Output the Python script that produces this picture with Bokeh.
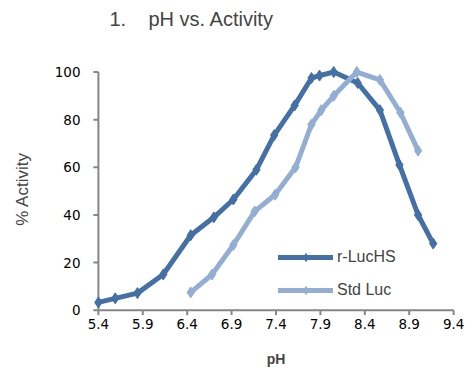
from bokeh.plotting import figure
from bokeh.models import Range1d, FixedTicker, Legend, LegendItem, Title
from bokeh.embed import file_html
from bokeh.resources import INLINE

# Data
ph_hs = [5.40, 5.59, 5.84, 6.13, 6.44, 6.70, 6.92, 7.18, 7.38, 7.61, 7.80, 7.89, 8.05, 8.32, 8.57, 8.79, 9.00, 9.17]
act_hs = [3.3, 5.0, 7.2, 15.0, 31.5, 39.0, 46.5, 59.0, 73.5, 86.0, 97.5, 98.5, 100.0, 95.4, 84.0, 61.0, 40.0, 28.0]

ph_std = [6.44, 6.68, 6.92, 7.16, 7.39, 7.62, 7.80, 7.91, 8.05, 8.31, 8.57, 8.80, 9.00]
act_std = [7.5, 15.0, 27.4, 41.5, 48.5, 60.0, 78.0, 84.0, 90.0, 100.0, 96.7, 83.0, 67.0]

x_ticks = [5.4, 5.9, 6.4, 6.9, 7.4, 7.9, 8.4, 8.9, 9.4]
y_ticks = [0, 20, 40, 60, 80, 100]

DARK = "#4470a5"
LIGHT = "#94aed3"
AXIS = "#868686"

X0, X1 = x_ticks[0], x_ticks[-1]
Y0, Y1 = y_ticks[0], y_ticks[-1]

p = figure(width=465, height=370, output_backend="svg", toolbar_location=None,
           x_range=Range1d(5.3, 9.5), y_range=Range1d(-2.2, 104),
           min_border_left=89, min_border_right=3, min_border_top=59, min_border_bottom=55)
p.outline_line_color = None
p.grid.grid_line_color = None
p.background_fill_color = "white"
p.border_fill_color = "white"

p.title.text = "1.\u00a0\u00a0\u00a0\u00a0pH vs. Activity"
p.title.text_font = "Liberation Sans"
p.title.text_font_size = "20px"
p.title.text_font_style = "normal"
p.title.offset = 20
p.title.standoff = 10

# invisible spacer between the title and the plot frame
p.add_layout(Title(text="\u00a0", text_font_size="1px", standoff=25, text_color="white"), "above")

# axes: labels from Bokeh, line and ticks drawn at the data origin (5.4, 0)
for ax in (p.xaxis[0], p.yaxis[0]):
    ax.axis_line_color = None
    ax.major_tick_line_color = None
    ax.major_tick_out = 0
    ax.major_tick_in = 0
    ax.minor_tick_line_color = None
    ax.major_label_text_font = "DejaVu Sans"
    ax.major_label_text_font_size = "13.5px"
    ax.major_label_text_color = "black"

p.xaxis.ticker = FixedTicker(ticks=x_ticks)
p.yaxis.ticker = FixedTicker(ticks=y_ticks)
p.xaxis.major_label_overrides = {t: f"{t:.1f}" for t in x_ticks}
p.xaxis.major_label_standoff = 3
p.yaxis.major_label_standoff = 9

p.xaxis.axis_label = "pH"
p.xaxis.axis_label_text_font = "Liberation Sans"
p.xaxis.axis_label_text_font_size = "14px"
p.xaxis.axis_label_text_font_style = "bold"
p.xaxis.axis_label_standoff = 19

p.yaxis.axis_label = "% Activity"
p.yaxis.axis_label_text_font = "Liberation Sans"
p.yaxis.axis_label_text_font_size = "17px"
p.yaxis.axis_label_text_font_style = "normal"
p.yaxis.axis_label_standoff = 20

# axis lines and tick marks
p.segment(x0=[X0, X0], y0=[Y0, Y0], x1=[X1, X0], y1=[Y0, Y1], line_color=AXIS, line_width=2)
tick_dx = 5 / 88.75
tick_dy = 5 / 2.42
p.segment(x0=x_ticks, y0=[Y0] * len(x_ticks), x1=x_ticks, y1=[Y0 - tick_dy] * len(x_ticks),
          line_color=AXIS, line_width=2)
p.segment(x0=[X0] * len(y_ticks), y0=y_ticks, x1=[X0 - tick_dx] * len(y_ticks), y1=y_ticks,
          line_color=AXIS, line_width=2)

l1 = p.line(ph_hs, act_hs, line_color=DARK, line_width=5, line_join="round", line_cap="round")
m1 = p.scatter(ph_hs, act_hs, marker="diamond", size=11, fill_color=DARK, line_color=DARK)
l2 = p.line(ph_std, act_std, line_color=LIGHT, line_width=5, line_join="round", line_cap="round")
m2 = p.scatter(ph_std, act_std, marker="diamond", size=11, fill_color=LIGHT, line_color=LIGHT)

legend = Legend(items=[LegendItem(label="r-LucHS", renderers=[l1, m1]),
                       LegendItem(label="Std Luc", renderers=[l2, m2])],
                location=(189, 15), orientation="vertical",
                label_text_font="Liberation Sans", label_text_font_size="16px",
                glyph_width=55, glyph_height=20, spacing=13, padding=0,
                label_standoff=4, background_fill_alpha=0, border_line_color=None)
p.add_layout(legend, "center")

open("out.html", "w").write(file_html(p, INLINE))
